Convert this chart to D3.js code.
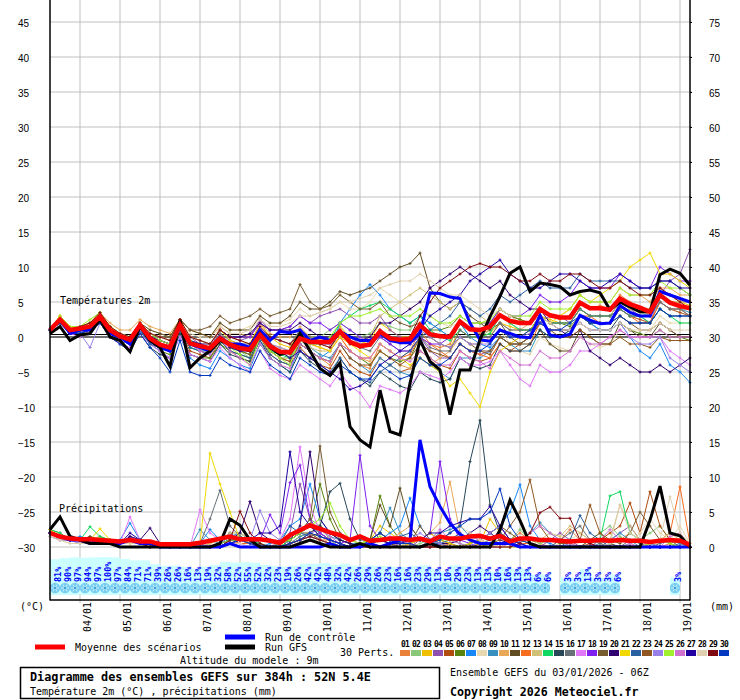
<!DOCTYPE html>
<html>
<head>
<meta charset="utf-8">
<script src="https://cdn.jsdelivr.net/npm/d3@7"></script>
<style>
body{margin:0;background:#fff}
svg text{font-family:"DejaVu Sans Mono",monospace}
svg .ax text{font-family:"Liberation Sans",Arial,sans-serif;font-size:10px}
</style>
</head>
<body>
<div id="viz"></div>
<script>
// time steps, every 6h from 03/01 06Z
const hours = d3.range(65).map(i => i * 6);
const dayLabels = ["04/01","05/01","06/01","07/01","08/01","09/01","10/01","11/01",
  "12/01","13/01","14/01","15/01","16/01","17/01","18/01","19/01"];
const dayHours = dayLabels.map((d, i) => 18 + 24 * i);
const tempTicks = d3.range(-30, 50, 5);
const rainTicks = d3.range(0, 80, 5);

const memberColors = ["#e8803a","#88c878","#f0c000","#9050b0","#b04c10","#5a8410","#1888f8","#e8d8b0",
  "#3890c0","#e8a858","#604c20","#f86c20","#d0c078","#10d860","#284858","#687078","#e078f8","#8020f0",
  "#785c30","#300070","#f0d800","#2860a0","#905820","#9880e8","#a0f030","#d070d0","#2000a0","#e0d0b0",
  "#800810","#0038c0"];

// temperature 2m (°C)
const tMean = [1.0, 2.5,1.0,1.2,1.5, 2.9,1.0,0.1,-0.4, 1.7,-0.2,-1.1,-1.5, 1.7,-0.9,-1.3,-1.6, -0.2,-1.1,-1.6,-1.8, 0.3,-1.3,-2.1,-2.2, -0.2,-0.7,-0.7,-0.7, 0.8,-0.7,-1.3,-1.1, 0.8,-0.2,-0.4,-0.3, 1.7,0.4,0.1,0.0, 2.2,1.1,1.0,1.5, 3.1,2.3,2.0,2.0, 4.0,3.1,2.8,2.8, 4.9,4.1,4.1,3.9, 5.5,4.7,4.2,3.6, 6.0,4.9,4.4,4.1];
const tCtrl = [1.0, 2.5,0.5,1.0,1.0, 3.0,0.5,0.0,-1.0, 1.5,-0.5,-1.5,-2.0, 1.5,-1.0,-1.5,-2.0, 0.0,-1.0,-1.0,-1.5, 1.0,-0.5,0.8,0.6, 1.0,-0.5,0.0,-0.5, 0.8,0.0,-0.5,-0.5, 0.5,-0.5,-0.8,-0.8, 0.5,6.3,6.2,5.7, 5.5,2.0,-0.4,-0.6, 1.0,0.5,0.0,-0.1, 3.1,0.3,0.0,0.4, 3.1,2.4,1.9,2.0, 4.5,3.5,3.0,3.0, 6.5,6.0,5.5,5.0];
const tGfs = [0.5, 1.5,-0.5,0.3,0.5, 2.5,0.0,-0.5,-2.1, 1.5,-0.5,-1.5,-4.2, 2.4,-4.4,-3.0,-2.0, -0.5,-1.0,-1.5,-2.0, 0.5,-1.5,-2.5,-2.0, 0.5,-2.0,-4.5,-5.5, -3.7,-12.8,-14.7,-15.7, -7.6,-13.5,-14.0,-6.6, -0.4,-3.5,-4.7,-11.1, -4.7,-4.7,-0.4,2.9, 5.8,9.1,10.0,6.5, 7.7,7.5,7.2,6.0, 6.5,6.7,6.3,3.9, 5.0,4.3,3.6,3.6, 8.9,9.7,9.1,7.4];
const tMembers = [
  [1, 2.5,1,0.5,1.5, 3,1,0.5,0, 1.5,0,-0.5,-1, 2,-0.5,-1,-1.5, 0.5,-1,-2,-2.5, 1,-2,-3,-3.5, -1,-2,-3,-4, -1,-3,-4,-4.5, -1,-2,-3,-2, 1,-1,-1.5,-1, 2,1,0.5,1, 4,3,2.5,2, 4,3,2.5,3, 5,4,4.5,4, 6,5,4,3, 7,6,5,5],
  [1, 2,1,1,1.5, 2.5,1,0,-1, 1,-0.5,-1.5,-2, 1,-1.5,-2,-2.5, 0,-1.5,-2,-3, 0.5,-2,-3,-3, 1,0,0,1, 2,1,0,0.5, 2,1.5,1,1, 3,2,1,0, 2,0,0,1, 3,2,1,1, 3,2,2,2, 4,3,3,3, 5,4,3.5,3, 6,5,4,4],
  [1, 3,1.5,1,1.5, 3,1.5,0.5,0, 2,0.5,0,-0.5, 2.5,0,-0.5,-1, 1,0,-0.5,-1, 2,0,-1,-1.5, 1,0,-0.5,-1, 1.5,0,-1,-0.5, 2,1,0,0, 2,0,-1,-1.5, 1,0,0,0.5, 2,1.5,1,1, 3,2.5,2,2, 4,3,3,3, 5,4,4,4, 6,5,5,4.5],
  [1, 2.5,0.5,1,1.5, 2.5,1,0,-0.5, 1.5,0,-0.5,-1, 2,0,-1,-1.5, 1,0,-0.5,0, 2.5,1,1,1.5, 3,2,3,3.5, 4,3,2,2, 3,1,0,-1, 0,-2,-3,-3, -1,-2,-2.5,-2, 0,-1,0,1, 2,3,3,2, 4,3,3,3, 5,4,3,2, 6,8,9,12.5],
  [1, 2,0.5,1,1, 2.5,0.5,-0.5,-1, 1,-0.5,-1.5,-2, 1,-2,-2.5,-3, -0.5,-2,-3,-3.5, 0,-2.5,-3.5,-4, -1.5,-3,-4,-4.5, -2,-4,-5,-5.5, -3,-4,-5,-4.5, -2,-3,-4,-4.5, -2,-3,-3.5,-3, -1,-2,-1,0, 2,1,1,1, 3,2,2,2, 4,3,2.5,2, 5,4,3.5,3],
  [1, 2,1,1.5,1, 2,1,0,-0.5, 1,-1,-2,-2.5, 0.5,-2.5,-3,-3, -1,-2,-2.5,-3, 0,-1,-2,-3, -1,-2,-3,-3.5, -1,-2,-3,-4, -2,-3,-3.5,-3, 0,1,1,1.5, 3,2,2,2, 4,3,2.5,2, 3,2,2,1.5, 3,2,1,1, 2,1,0.5,0, 1,0,0,-0.5],
  [1, 2,0.5,0.5,1, 2,0.5,-0.5,-1, 1,-1,-2,-3, 0,-3,-4,-4.5, -2,-3,-4,-4.5, -1,-3,-4,-5, -1,-2,-3,-2, 2,4,6,7.5, 6,4,3,2, 3,2,1,0, 2,0,-1,-1.5, 0,-1,-1,0, 2,1,1,1, 3,2,1,1, 2,0,-2,-3, -1,-4,-5,-6.5],
  [1, 2.5,1.5,1.5,2, 3,1.5,0.5,0, 2,1,0.5,0, 2,0.5,0,0, 2,1,1,1.5, 3,2,2,2.5, 4,3,3.5,4, 5,4,4,5, 7,6,5,4, 5,3,2,1.5, 2,1,0,-1, 1,-1,-2,-2.5, 0,-1,-1.5,-2, 0,-1,-1.5,-1, 1,0,0,1, 3,2,2,2],
  [1, 2.5,1,1,1.5, 3,1,0,-0.5, 1.5,0,-0.5,-1, 2,-0.5,-1,-1.5, 0,-1,-1.5,-2, 1,-1,-2,-2.5, -0.5,-1.5,-2.5,-3, -1,-3,-4,-5, -3,-4,-5,-5.5, -3,-4,-5,-6, -3,-3,-3,-2, 0,-1,-2,-2, 1,0,0,1, 3,2,2,2, 4,3,3,3, 5,4,4,3.5],
  [1, 3,1.5,1.5,2, 3.5,2,1,1, 2.5,1.5,1,0.5, 2.5,1,0.5,0, 1.5,0.5,0.5,0, 2,0.5,0,0, 1.5,0,-1,-1.5, 0,-2,-3,-3.5, -2,-3,-4,-4.5, -3,-4,-3,-2, 0,-1,-1,0, 2,1,1,2, 4,3,3,4, 6,5,5,5, 7,6,6,5, 7,7,6,6],
  [1, 2.5,1,1,1.5, 3,1,0.5,0, 2,1,0.5,0, 2.5,1,0.5,0, 2,1,1,1, 3,2,2,3, 5,4,4,5, 6.5,6,6.5,7, 8,9,10,10.5, 12,7,5,4, 5,3,2,1, 2,0,-1,-1, 1,-1,-2,-2, 1,0,-1,-1, 2,1,0,0, 2,1,0,0, 3,2,1,0],
  [1, 2.5,1,1,1.5, 3,1,0,-0.5, 1.5,0,-1,-1.5, 1.5,-1,-1.5,-2, 0,-1,-1.5,-2, 0.5,-1.5,-2,-2.5, 0,-1,-1.5,-2, 0,-2,-3,-3, -1,-2,-3,-2.5, 0,-1,-2,-3, -1,-2,-2.5,-3, -1,-2,-2,-1, 2,1,1,1, 3,3,2,2, 4,3,2,2, 5,4,4,3],
  [1, 2,1,1,1, 2.5,0.5,-0.5,-1, 1,-0.5,-1,-1.5, 1.5,-1,-1.5,-2, 0,-1.5,-2,-2.5, 0,-2,-3,-3, -0.5,-1.5,-2,-2, 1,0,-1,0, 3,4,5,6, 7,6,5,4, 5,4,3,2, 3,2,1,1, 3,2,2,2, 4,3,3,3, 5,4,4,4, 6,5,5,5],
  [1, 2.5,1,1.5,2, 3,1,0,-1, 1,-0.5,-1.5,-2, 1.5,-1.5,-2,-2, 0,-1.5,-2,-2.5, 0,-2,-2.5,-3, 0,-1,-1,-0.5, 2,3,4,4.5, 5,4,3,2, 3,1,0,-0.5, 1,0,0,0.5, 3,2,1,1, 3,2,2,2, 4,3,3,3, 4,3,3,2, 4,3,2,2],
  [1, 2,0.5,0.5,1, 2,0,-1,-2, 0.5,-1.5,-2.5,-3, 0.5,-2.5,-3,-3.5, -1,-2.5,-3,-3.5, -0.5,-3,-4,-5, -2,-3.5,-4.5,-5.5, -3,-5,-6,-7, -5,-6,-7,-7.5, -5,-6,-6.5,-6, -3,-4,-4.5,-4, -1,-2,-2,-1, 1,0,0,1, 2,1,1,1, 3,2,2,2, 4,3,3,3],
  [1, 2.5,1,1,1.5, 3,1,0,-0.5, 1.5,0,-0.5,-1, 1.5,-1,-1.5,-1.5, 0.5,-0.5,-1,-1, 1,0,-0.5,-1, 1,0,-1,-1, 1,-0.5,-1.5,-2, 0,-1,-2,-2, 0,-1.5,-2,-2, 1,0,0,0, 2,1,1,1, 3,2,2,2, 4,3,3,3, 4,3,3,3, 5,4,4,3],
  [1, 2,0.5,0,1, 2,0,-1,-1.5, 0.5,-1,-2,-3, 0,-2.5,-3,-3.5, -1.5,-3,-4,-5, -2,-4.5,-5.5,-6, -4,-5,-6,-7, -5,-7,-8,-10, -7,-7.5,-8,-7, -5,-5.5,-6,-5, -3,-4,-4,-3.5, -2,-4,-6,-7, -4,-5,-5,-4, -2,-2,-1,0, 1,0,0,0, 0,-2,-3,-4],
  [1, 2.5,1,1,1.5, 3,1,0.5,0, 2,0.5,0,-0.5, 2,0,-0.5,-1, 1,0,0,0, 2,1,1,1.5, 3,2,2,1, 2,1,0,-1, 0,-1,-2,-2, 0,-1,-1,0, 2,1,1,2, 4,3,3,4, 6,5,5,6, 8,7,7,7, 9,8,7,7, 10,9,8,8],
  [1, 2.5,1,1,1.5, 3,1,0,0, 2,0.5,0,0, 2.5,1,1,1.5, 3,2,2.5,3, 4,3,3.5,4, 7.5,5,4,4.5, 6,5,4,4, 5,3,2,1.5, 2,0,-1,-1.5, 0,-1,-2,-2, 0,-1,-1,0, 2,1,1,1, 3,2,2,2, 3,2,1,1, 2,1,0,0],
  [1, 2.5,1,1,1.5, 3,1,0,-0.5, 1.5,0,-0.5,-1, 1.5,-0.5,-1,-1, 1,0,0,0.5, 2,1,1,1, 2,1,0,0, 1,0,-0.5,0, 2,2,3,4, 5,7,8,9, 10,9,8,7, 8,6,5,4, 4,2,1,0, 1,-2,-3,-4, -3,-4,-5,-5, -4,-5,-4,-3],
  [1, 3,1.5,1.5,2, 3.5,1.5,0.5,0, 2,0.5,0,-0.5, 2,0,-0.5,-1, 1,-0.5,-1,-1.5, 1,-1,-1.5,-2, 0,-1,-1.5,-2, 0,-1,-2,-3, -1,-2,-3,-4, -3,-4,-5,-7, -6,-8,-10,-5, -2,-1,0,1, 3,2,3,4, 6,5,6,7, 8,10,11,12, 9,9,8,7],
  [1, 2,1,0.5,1, 2.5,0.5,-0.5,-1, 1,-1,-1.5,-2, 1,-1.5,-2,-2.5, -0.5,-2,-2.5,-3, -0.5,-2.5,-3.5,-4, -2,-3,-4,-5, -3,-5,-6,-6.5, -5,-4,-3,-2, 0,1,2,3, 5,4,3,4, 6,5,6,7, 8,7,7,7, 9,8,8,8, 8,7,7,7, 8,8,7,6],
  [1, 2.5,1,1.5,1.5, 3,1,0,-0.5, 1.5,0,-1,-1.5, 1.5,-1,-1.5,-2, 0,-1.5,-2,-2.5, 0,-2,-3,-3.5, -1,-2,-3,-3.5, -1,-3,-4,-4, -2,-3,-4,-3, -1,-2,-2.5,-3, -1,-2,-2,-2.5, 0,-1,-1,0, 2,1,0,0, 1,0,-1,-1, 0,-1,-1,-1.5, 0,-0.5,-0.5,-0.5],
  [1, 2,0.5,0.5,-1.5, 2,0.5,-0.5,-1, 1,-0.5,-1,-1.5, 1.5,-1,-2,-2, 0,-1,-1.5,-2, 1,-1,-1.5,-2, 0,-1,-1,-1, 1,0,-1,-1, 1,0,-1,-1, 1,0,-1,-1.5, 0,-1,-1,-1, 1,0,0,0.5, 2,1,1,1, 2,1,1,1, 2,0,-1,-1, 0,-3,-4,-5],
  [1, 3,1.5,1.5,2.5, 3.5,1.5,0.5,0, 2,0.5,-0.5,-1, 2,-0.5,-1.5,-2, 0,-1.5,-2.5,-4, 0,-2,-3,-4, 0,-1,-1,0, 2,3,3,3.5, 4,3,3,3, 4,3,2,2, 3,2,2,2.5, 4,3,3,3, 5,4,4,4, 6,5,5,5, 7,6,6,6, 8,7,7,6],
  [1, 2.5,1,1,1.5, 3,1,0,-0.5, 1.5,0,-1,-1.5, 2,-1,-2,-2.5, 0,-2,-3,-4, -1,-3,-4,-4.5, -1,-2,-3,-3.5, -1,-2,-3,-3, -1,-2,-3,-3.5, -2,-3,-4,-4, -2,-3,-3.5,-4.5, -2,-3,-4,-4, -2,-3,-3,-2, 0,-1,-1,0, 1,0,0,0, 1,0,0,0],
  [1, 2.5,1,1,1.5, 3,1,0,-0.5, 1.5,0,-1,-1.5, 1.5,-1,-1.5,-2, 0,-1.5,-2,-2, 0.5,-1,-2,-3, -2,-3,-4,-5, -6,-7.5,-7,-6, -4,-3,-2,-1, 1,3,4,5, 6,8,9,10, 11,9,8,7, 7,8,9,9, 8,7,7,8, 9,8,7,7, 8,8,7,7],
  [1, 2.5,1,1.5,1.5, 3,1,0.5,0, 2,0.5,0,-0.5, 2,0,-0.5,-1, 1.5,0.5,0.5,1, 2.5,1.5,1.5,2, 3,3,3.5,4, 5,5,5.5,6, 7,7.5,8,8, 9,8,7,6, 6,5,4,3, 4,3,2,2, 3,2,1,1, 2,1,1,1, 2,1,1,1, 2,1,1,1],
  [1, 2.5,1,1.5,2, 3.5,1.5,0.5,0, 2,0.5,0,-0.5, 2.5,0,-0.5,-1, 1,0,-0.5,-1, 1.5,0,-0.5,-1, 0.5,-0.5,-1,-1.5, 0.5,-1,-1.5,-1, 1,0,-0.5,0, 3,5,7,8, 9,10,10.5,10, 10,9,8,8, 9,8,8,9, 9,8,7,7, 8,7,6,6, 7,6,5,4],
  [1, 2,0.5,0.5,1, 2,0,-1,-2, 0.5,-1.5,-3,-5, -0.5,-5,-5.5,-5.5, -3,-4,-4.5,-5, -2,-4,-5,-6, -3,-4,-5,-5.5, -4,-5,-6,-6, -4,-5,-6,-5.5, -3,-4,-4,-3, -1,-2,-2,-1, 1,0,0,1, 2,1,1,2, 3,2,2,2, 3,2,2,2, 4,3,3,3]
];

// precipitation (mm / 6h)
const pMean = [2.0, 1.5,1.2,1.1,1.1, 1.0,0.9,0.8,1.0, 0.8,0.8,0.4,0.4, 0.4,0.4,0.6,0.9, 1.2,1.5,1.1,1.1, 1.1,0.9,0.6,1.7, 2.4,3.1,2.6,2.1, 1.7,1.0,1.5,0.9, 1.0,1.2,1.2,1.0, 1.2,0.8,1.5,1.2, 1.2,1.5,1.6,1.2, 1.6,0.8,1.2,1.2, 1.0,1.0,0.9,0.8, 0.9,0.9,1.0,0.9, 1.0,0.9,0.9,0.7, 0.9,1.0,0.9,0.3];
const pCtrl = [2, 1.5,1,1,0.5, 1,0.5,0.5,1, 0.5,0.5,0,0, 0,0,0,0, 0,0.5,0,0, 0,0,0,0, 0,0,0,0.5, 0,0,0,0.5, 0,0.5,1,1, 15.3,8.6,5.8,3.4, 1.8,1,0.5,0.5, 0.5,0.5,0,0, 0,0,0,0, 0,0,0,0, 0,0,0,0, 0,0,0,0];
const pGfs = [2.5, 4.3,1.5,1,0.5, 0.5,0.5,0,0, 0,0,0,0, 0,0,0,0, 0.5,4,3.1,1, 0,0,0,0, 0.5,1,0.5,0, 0,0,0.5,0, 0,0,0,0, 0,0.5,0,0, 0,0,0,0, 2.4,6.7,3.8,0.5, 0,0,0,0, 0,0,0,0, 0,0,0,3.8, 8.7,2,1.6,0];
const pMembers = [
  [2, 1.5,1,1,1, 1,1,0.5,1, 0.5,0.5,0,0, 0,0,0,0.5, 1,2,1,0.5, 0,0,0.5,1, 2,3,2,1, 0.5,0,0.5,0, 0,0.5,1,0.5, 0,0.5,1,0.5, 0,0,0.5,0.5, 0.5,1,2,1, 0.5,0,1,2.5, 1,0.5,0,0.5, 1,2,1,0.5, 0,0.5,1,0],
  [2.5, 1.5,1,1,1.5, 1,0.5,0.5,1, 1,0.5,0,0, 0,0,0,0, 0.5,1,1.5,0.5, 0,0,0,1, 2,4,3,1, 0,0,0.5,1, 2,1,0.5,0, 0.5,1,0.5,0, 0,0,0,0, 0,1,2.5,1, 0.5,1,0.5,0.5, 0,1,2,3, 1.5,0.5,1,2, 3,1,0.5,0],
  [2, 1.5,1,1,1, 1.5,1,0.5,0.5, 0.5,0,0,0, 0,0.5,0,0, 0,1,2,1, 0.5,0,0,0.5, 1.5,2,1,0.5, 0,0,0.5,1, 3,2,1,0.5, 1,2,1,0.5, 0,0,0.5,4, 2,1,0.5,0.5, 0,0,0,0, 0,0,0,0, 0,0,0,0.5, 0,0,1,0],
  [2, 1,1,0.5,1, 1,0.5,0.5,1.5, 1,0.5,0,0, 0,0,0.5,0, 0,0.5,1,0.5, 0,0,0.5,2, 9,4,1,0.5, 0,0,0.5,0, 0,0.5,0,0, 1,2,1,0.5, 0,0,1,2, 3,1,0,0, 0,1,2,1, 0,0,0,1, 2,3,1,0, 0,0,0,0],
  [2, 1.5,1,1,1, 1,0.5,0.5,1, 0.5,0,0,0, 0,0,0,0, 0,1,1,0.5, 0,0,0,0.5, 1,1.5,2,1, 0.5,0,0,0, 0,0,0.5,0.5, 0,0,0,0, 0,0.5,1,0.5, 0,0,0,0, 0,0,0,0, 0,0.5,1,2, 3,6.3,2,7.9, 3,1,0.5,0],
  [2.5, 2,1,1,1, 1,1,0.5,1, 0.5,0.5,0,0, 0,0,0,0, 0.5,1,1,0.5, 0,0,0.5,1, 2,3,9,4, 1,0.5,0,1, 7.3,3,1,0.5, 0,0.5,0,0, 0,0,0,0, 0,0,0,0, 0,0,0,0, 0,0,0,0, 0,0,0,0, 0,0,0,0],
  [2, 1.5,1,1.5,1, 1,0.5,1,3.4, 1,0.5,0,0, 0,0,0.5,2.5, 1,2,1,0.5, 0,0.5,1,3, 4,9,4,2, 1,0.5,0,0.5, 1,2,3,7, 3,1,0.5,0.5, 0,0.5,1,2, 3,5,8.9,3, 1,0.5,0,0, 0,0,0,0.5, 0,0,0,0, 0,0,0,0],
  [1.5, 1,0.5,0.5,0.5, 0.5,0.5,0.5,0.5, 0.5,0,0,0, 0,0,0,0, 0,0.5,0.5,0, 0,0,0,0, 0.5,1,1.5,1, 0.5,0,0,0, 0,0.5,0.5,0, 0,0,0,0.5, 1,1.5,1,0.5, 0,0.5,1,0.5, 0,0,0.5,1, 2,1,0.5,0, 0,0.5,2,4, 2,1,3,0.5],
  [2, 1.5,1,1,1, 1,0.5,0.5,1, 0.5,0.5,0,0.5, 0,0,2.5,1, 0.5,1.5,2,1, 0.5,0,0,0.5, 1.5,2,2.5,1.5, 1,0.5,0.5,1, 2,5.6,2,1, 1,1,2,2.5, 3,1.5,1,0.5, 0,0,1,2, 3.5,2,1,0, 0,0,0.5,1, 2,1,0,0, 0,0,0.5,0],
  [2.5, 1.5,1,1,1, 1.5,1,0.5,0.5, 0.5,0,0,0, 0,0,0,0, 0,0.5,1,0.5, 0,0,0,0.5, 1,2,1.5,1, 0.5,0,0,0.5, 1,1,2,3, 1,2,3.5,9.3, 2,1,0.5,0, 0,0,0,0, 0,0,0,0, 0,0,0,0, 0,0,0,0, 0,0,0,0],
  [2, 1.5,1,1,1.5, 1,1,0.5,1, 0.5,0.5,0,0, 0,0,0,0, 0.5,1,1,0.5, 0,0,0,1, 2,2,3,2, 1,0.5,0,1, 6,3,8.4,3, 1,0.5,0,0, 0,0,0,0, 0,0,0,0, 0,0,0,0, 0,0,0,0, 0,0,0,0, 0,0,0,0],
  [2, 1.5,1,1,1, 1,0.5,0.5,1, 0.5,0,0,0, 0,0,0,0, 0,1,0.5,0.5, 0,0,0,0.5, 1,1.5,1,1, 0.5,0,0,0, 0,0,0,0.5, 0,0,0,0.5, 0,0,0,0, 0,0,0.5,0.5, 0,0,0,0, 0,0,0,0, 0,0,0,0.5, 1,2,8.6,0.5],
  [1.5, 1,1,0.5,1, 1,0.5,0.5,0.5, 0.5,0,0,0, 0,0,0,0.5, 1,2,2,1, 0.5,0,0,0.5, 1,2,1,0.5, 0,0,0,0, 0,0,0,0.5, 0,1,0.5,0, 0,0,0,0, 0.5,1,0.5,0, 1,2,1.5,3, 2,1,0.5,1, 6,3,1,0.5, 1,2,1,0],
  [2.5, 2,1,1,2.9, 1.5,1,0.5,1, 0.5,0.5,0,0, 0,0,0,0, 0.5,1,1.5,1, 0.5,0,0,1, 2,3,2,1, 0.5,0,0,0.5, 1,0.5,0,0, 0,1,1.5,1, 0.5,0,0,0, 0,0,0,0, 0,0,0,0, 0,0,1,7.3, 7.9,2,1,0.5, 0,0,0,0],
  [2, 1.5,1,1,1, 1,0.5,0.5,1, 0.5,0,0,0, 0,0,0,0, 0,1,1,0.5, 0,0,0,0.5, 1,2,3,7.9, 9.1,4,1,1, 2,1,0.5,0.5, 0,0.5,1,2, 3,12.2,18.1,6, 2,1,0.5,0, 0,0,0,0, 0,0,0,0, 0,0,0,0, 0,0,0,0],
  [2, 1.5,1,1,1, 1,0.5,0.5,1, 0.5,0.5,0,0, 0,0,0.5,4, 8.1,3,1.5,1, 0,0,0,0.5, 1,1.5,2,1, 0.5,0,0,0, 0,0.5,1,0.5, 0,0,0,0, 0,0,0,0, 0.5,1,0.5,0, 0,0,1,2, 3,1,0.5,0, 0,1,0.5,0, 0.5,1,0,0],
  [2, 1.5,1,1,1, 1,0.5,0.5,4.3, 1,0.5,0,0, 0,0,5.3,2, 1,0.5,0.5,0, 0,0,1,4, 14.3,6,2,1, 0.5,0,0,0.5, 1,1.5,1,0.5, 0,0,0.5,0.5, 1,1.5,1,0.5, 0,0,0,0, 0,0,0,0, 0,0,0,0, 0,0,0,0, 0,0,0,0],
  [2, 1.5,1,1,1, 1,0.5,0.5,1, 0.5,0.5,0,0, 0,0,0,0, 0,0.5,1,0.5, 1,4.6,2,9.2, 11.7,4,2,1, 0.5,1,13.1,3, 1,0.5,0,0.5, 1,2,12.2,4, 1,0.5,0,0, 0,0,0,0, 0,0,0,0, 0,0,0,0, 0,0,0,0, 0,0,0,0],
  [2, 1.5,1,1,1, 1,0.5,0.5,1, 0.5,0,0,0, 0,0,0,0, 0,1,1,0.5, 0,0,0.5,1, 2,4,14.4,5, 2,1,0.5,1, 2,1,1,0.5, 3,1,0.5,0, 0,0.5,1,2, 3,2,1,0.5, 0,0,0,0, 0,1,2,1, 0.5,2,5,3, 1,0.5,0,0],
  [2, 1.5,1,1,1, 1,0.5,0.5,1.5, 1,2.7,0.5,0, 0,0,0,0, 0.5,1,2,6.5, 2,1,0.5,1, 3,13.6,4,2, 1,0.5,0,0.5, 1,0.5,0,0, 0,0,0.5,0.5, 1,2,3,2, 1,0.5,0,0, 0,0,0,0, 0,0,0,0, 0,0,0,0, 0,0,0,0],
  [2.5, 1.5,1,1,1, 2.6,1,0.5,0.5, 0.5,0,0,0, 0,0,0.5,13.4, 9,5,1,0.5, 0,0,0,0.5, 1,1.5,1,0.5, 0,0,0.5,1, 1,0.5,0,0.5, 1,2,1,0.5, 0,0.5,1,0.5, 0,0,0,0, 0,0,0,0, 0,0,0,0, 0,0,0,0, 0,0,0,0],
  [2, 1.5,1,1,1, 1,0.5,0.5,1, 0.5,0.5,0,0, 0,0,0,0, 0.5,1,1,0.5, 0,0,0.5,3, 2,1.5,1,0.5, 0,0,0,0.5, 1,1,1.5,2, 1,0.5,0.5,1, 2,1,0.5,1, 2,1,0.5,0, 0,0,0,1, 4.5,2,1,0, 0,0,0,0, 0,0,0,0],
  [2, 1.5,1,1,1, 1,0.5,0.5,1, 0.5,0,0,0, 0,0,0,0, 0,0.5,1,0.5, 0,0,0,0.5, 1,2,1,0.5, 0,0,0,0.5, 1,0.5,0,0, 0,0,0,0, 0,0,0,0.5, 1,3,5,9.6, 3,1,0.5,0.5, 1,6,2,0.5, 0,0,0,0, 0,0,0,0],
  [1.5, 1,1,0.5,1, 1,0.5,0.5,1, 0.5,0,0,0, 0,0,0,0, 0,0.5,1,1, 5.2,2,1,0.5, 1,1.5,1,0.5, 0,0,0,0, 0,0,0.5,1, 2,1,0.5,0, 0,0,1,2, 3,1,0.5,0, 0,0,0,0.5, 1,0.5,0,0, 0,0.5,1,0.5, 0,0,0,0],
  [2, 1.5,1,1,1, 1,1,0.5,1, 0.5,0.5,0,0, 0,0,0,0, 0.5,1,1,0.5, 0,0,0.5,1, 2,3,4,6.3, 3,1,0.5,1, 1.5,1,1,0.5, 0,0.5,1,1, 1.5,1,0.5,0, 0,0,0,0, 0,0,0,0, 0,0,0,0, 0,0,0,0.5, 1,0.5,0,0],
  [2, 1.5,1,1,1, 1,0.5,0.5,1, 0.5,0,0,0, 0,0,0,0, 0,0.5,1,0.5, 0,0,0,0.5, 1,2,2.5,1.5, 0.5,0,0,0, 0,0.5,1,0.5, 0,1,2.5,1, 0.5,0,0,0, 0,0.5,1,2, 3,2,1,0.5, 0,0,1,2.5, 1,0.5,0,0, 0,1.5,2,0],
  [2, 1.5,1,1,1, 1,0.5,0.5,2, 1,0.5,0,0, 0,0,0,0, 0,0.5,1,1, 2,2,3,13.6, 5,3,1.5,1, 0.5,0,0,0.5, 1,0.5,0.5,1, 1,2,2,3, 3.5,4,4,5.8, 3,1,0.5,0, 0,0,0,0, 0,0,0,0, 0,0,0,0, 0,0,0,0],
  [1.5, 1,0.5,0.5,0.5, 0.5,0.5,0.5,0.5, 0.5,0,0,0, 0,0,0,0, 0,0.5,0.5,0, 0,0,0,0, 0.5,1,1,0.5, 0,0,0,0, 0,0,0,0, 0,0.5,1,2, 3,2,1,0.5, 0,0,0,0, 0,0,0,0, 0,0,0,0.5, 6,2,1,0.5, 1,7.2,2,0.5],
  [2, 1.5,1,1,1, 1,0.5,0.5,1, 0.5,0,0,0, 0,0,0,0, 0,1,5.1,2, 0.5,0,0,0.5, 1,1.5,1,0.5, 0,0,0,0, 0,0,0,0, 0,0,0,0, 0,0,0,0, 0,0,0.5,2, 4.9,5.7,4.1,4.1, 1,0.5,0,0, 0,0,0,0, 0,0,0,0],
  [2, 1.5,1,1,1, 1,0.5,0.5,1, 0.5,0.5,0,0, 0,0,0,0, 0,0.5,1,0.5, 0,0,0,0.5, 1,2,1.5,1, 0.5,0,0,1, 2,1,0.5,0.5, 0,0.5,1,2, 3,4,4,5, 8.3,3,1,0.5, 0,0,0,0, 0,0,0,0, 0,0,0,0, 0,0,0,0]
];

// snow probability per 6h interval (%)
const snowPct = [81,90,97,94,97,100,97,84,71,71,39,26,26,16,13,19,32,58,52,55,52,32,23,19,26,
  42,42,48,32,42,26,29,26,23,16,16,23,29,13,10,29,23,13,13,10,16,13,13,6,6,
  null,3,3,13,3,3,6,null,null,null,null,null,3,null];

const svg = d3.select("#viz").append("svg")
  .attr("width", 740).attr("height", 700);

const x = d3.scaleLinear().domain([0, 384]).range([50, 690]);
const yT = d3.scaleLinear().domain([-30, 45]).range([547, 22]);
const yP = d3.scaleLinear().domain([0, 75]).range([547, 22]);

// grid
svg.append("g").selectAll("line").data(tempTicks).enter().append("line")
  .attr("x1", 50).attr("x2", 692)
  .attr("y1", d => yT(d)).attr("y2", d => yT(d))
  .attr("stroke", "#c0c0c0");
svg.append("g").selectAll("line").data(dayHours).enter().append("line")
  .attr("x1", d => x(d)).attr("x2", d => x(d))
  .attr("y1", 0).attr("y2", 603)
  .attr("stroke", "#c0c0c0");

// snow band + flakes + percentages
const band = d3.scaleLinear().domain([0, 15, 100]).range([580, 567, 557]);
const snow = snowPct.map((p, i) => ({p, i})).filter(d => d.p !== null);
const snowG = svg.append("g");
snowG.selectAll("rect").data(snow).enter().append("rect")
  .attr("x", d => x(hours[d.i]))
  .attr("width", x(6) - x(0))
  .attr("y", d => band(d.p))
  .attr("height", d => 595 - band(d.p))
  .attr("fill", "#ccffff");
const flakes = snowG.selectAll("g.flake").data(snow).enter().append("g")
  .attr("class", "flake")
  .attr("transform", d => `translate(${x(hours[d.i] + 3)},588)`);
flakes.append("circle").attr("r", 5.2).attr("fill", "#78cdf0");
flakes.append("path")
  .attr("d", "M-4,0H4M-2,-3.4L2,3.4M-2,3.4L2,-3.4")
  .attr("stroke", "#d4f6ff").attr("stroke-width", 0.9);
flakes.append("circle").attr("r", 1.2).attr("fill", "#3aa0dc");
snowG.selectAll("text").data(snow).enter().append("text")
  .attr("transform", d => `translate(${x(hours[d.i + 1]) + 0.5},582) rotate(-90)`)
  .attr("font-size", "8.5px").attr("font-weight", "bold")
  .attr("fill", "#0000ff")
  .text(d => d.p + "%");

// 0°C line
[-2.5, 0].forEach(off => {
  svg.append("line").attr("x1", 50).attr("x2", 690)
    .attr("y1", yT(0) + off).attr("y2", yT(0) + off)
    .attr("stroke", "#000").attr("stroke-width", 1);
});

const lineT = d3.line().x((d, i) => x(hours[i])).y(d => yT(d));
const lineP = d3.line().x((d, i) => x(hours[i])).y(d => yP(d));
const crosses = (vals, sc) => vals.map((v, i) => {
  const cx = x(hours[i]), cy = sc(v);
  return `M${cx - 1.5},${cy}h3M${cx},${cy - 1.5}v3`;
}).join("");

function drawSet(members, ctrl, gfs, mean, line, sc) {
  const g = svg.append("g").attr("fill", "none");
  members.forEach((m, k) => {
    g.append("path").attr("d", line(m))
      .attr("stroke", memberColors[k]).attr("stroke-width", 1);
    g.append("path").attr("d", crosses(m, sc))
      .attr("stroke", memberColors[k]).attr("stroke-width", 1);
  });
  g.append("path").attr("d", line(ctrl)).attr("stroke", "#0000ff").attr("stroke-width", 3);
  g.append("path").attr("d", line(gfs)).attr("stroke", "#000").attr("stroke-width", 3);
  g.append("path").attr("d", line(mean)).attr("stroke", "#ff0000").attr("stroke-width", 4.5);
}
drawSet(pMembers, pCtrl, pGfs, pMean, lineP, yP);
drawSet(tMembers, tCtrl, tGfs, tMean, lineT, yT);

// frame
const frame = svg.append("g").attr("stroke", "#000").attr("stroke-width", 1.5);
frame.append("line").attr("x1", 50).attr("x2", 50).attr("y1", 0).attr("y2", 600.5);
frame.append("line").attr("x1", 690).attr("x2", 690).attr("y1", 0).attr("y2", 600.5);
frame.append("line").attr("x1", 50).attr("x2", 690).attr("y1", 600).attr("y2", 600);

// axes
svg.append("g").attr("class", "ax").attr("transform", "translate(50,0)")
  .call(d3.axisLeft(yT).tickValues(tempTicks).tickSize(0))
  .call(g => g.select(".domain").remove())
  .call(g => g.selectAll("text").attr("text-anchor", "start").attr("x", -32).attr("dy", "0.45em"));
svg.append("g").attr("class", "ax").attr("transform", "translate(690,0)")
  .call(d3.axisRight(yP).tickValues(rainTicks).tickSize(2))
  .call(g => g.select(".domain").remove())
  .call(g => g.selectAll("text").attr("x", 19).attr("dy", "0.45em"));

// date labels
svg.append("g").selectAll("text").data(dayHours).enter().append("text")
  .attr("transform", d => `translate(${x(d) + 11},602) rotate(-90)`)
  .attr("text-anchor", "end").attr("font-size", "10px")
  .text((d, i) => dayLabels[i]);

const txt = (s, tx, ty, size, bold) => svg.append("text")
  .attr("x", tx).attr("y", ty).attr("font-size", size + "px")
  .attr("font-weight", bold ? "bold" : "normal").text(s);

txt("Températures 2m", 60, 304, 10);
txt("Précipitations", 59, 512, 10);
txt("(°C)", 20, 610, 10);
txt("(mm)", 710, 610, 10);

// legend
const leg = [
  {label: "Moyenne des scénarios", color: "#ff0000", x: 35, y: 647},
  {label: "Run de contrôle", color: "#0000ff", x: 225, y: 637},
  {label: "Run GFS", color: "#000000", x: 225, y: 647}
];
leg.forEach(d => {
  svg.append("line").attr("x1", d.x).attr("x2", d.x + 30)
    .attr("y1", d.y).attr("y2", d.y)
    .attr("stroke", d.color).attr("stroke-width", 5);
  txt(d.label, d.x + 40, d.y + 3.5, 10);
});
txt("30 Perts.", 340, 656, 10);
txt("Altitude du modele : 9m", 180, 664, 10);

const permLabels = d3.range(1, 31).map(d => d3.format("02")(d));
const pl = svg.append("g");
pl.selectAll("rect").data(permLabels).enter().append("rect")
  .attr("x", (d, i) => 400 + 11 * i).attr("y", 650)
  .attr("width", 10).attr("height", 6)
  .attr("fill", (d, i) => memberColors[i]);
pl.selectAll("text").data(permLabels).enter().append("text")
  .attr("x", (d, i) => 405 + 11 * i).attr("y", 647)
  .attr("text-anchor", "middle").attr("font-size", "8px")
  .attr("letter-spacing", "-0.8px").attr("font-weight", "bold")
  .text(d => d);

// title box
svg.append("rect").attr("x", 20.5).attr("y", 667.5).attr("width", 419).attr("height", 31)
  .attr("fill", "none").attr("stroke", "#000").attr("stroke-width", 1.5);
txt("Diagramme des ensembles GEFS sur 384h : 52N 5.4E", 30, 681, 11.8, true);
txt("Température 2m (°C) , précipitations (mm)", 30, 695, 10);
txt("Ensemble GEFS du 03/01/2026 - 06Z", 450, 676, 10);
txt("Copyright 2026 Meteociel.fr", 450, 696, 11.6, true);
</script>
</body>
</html>
